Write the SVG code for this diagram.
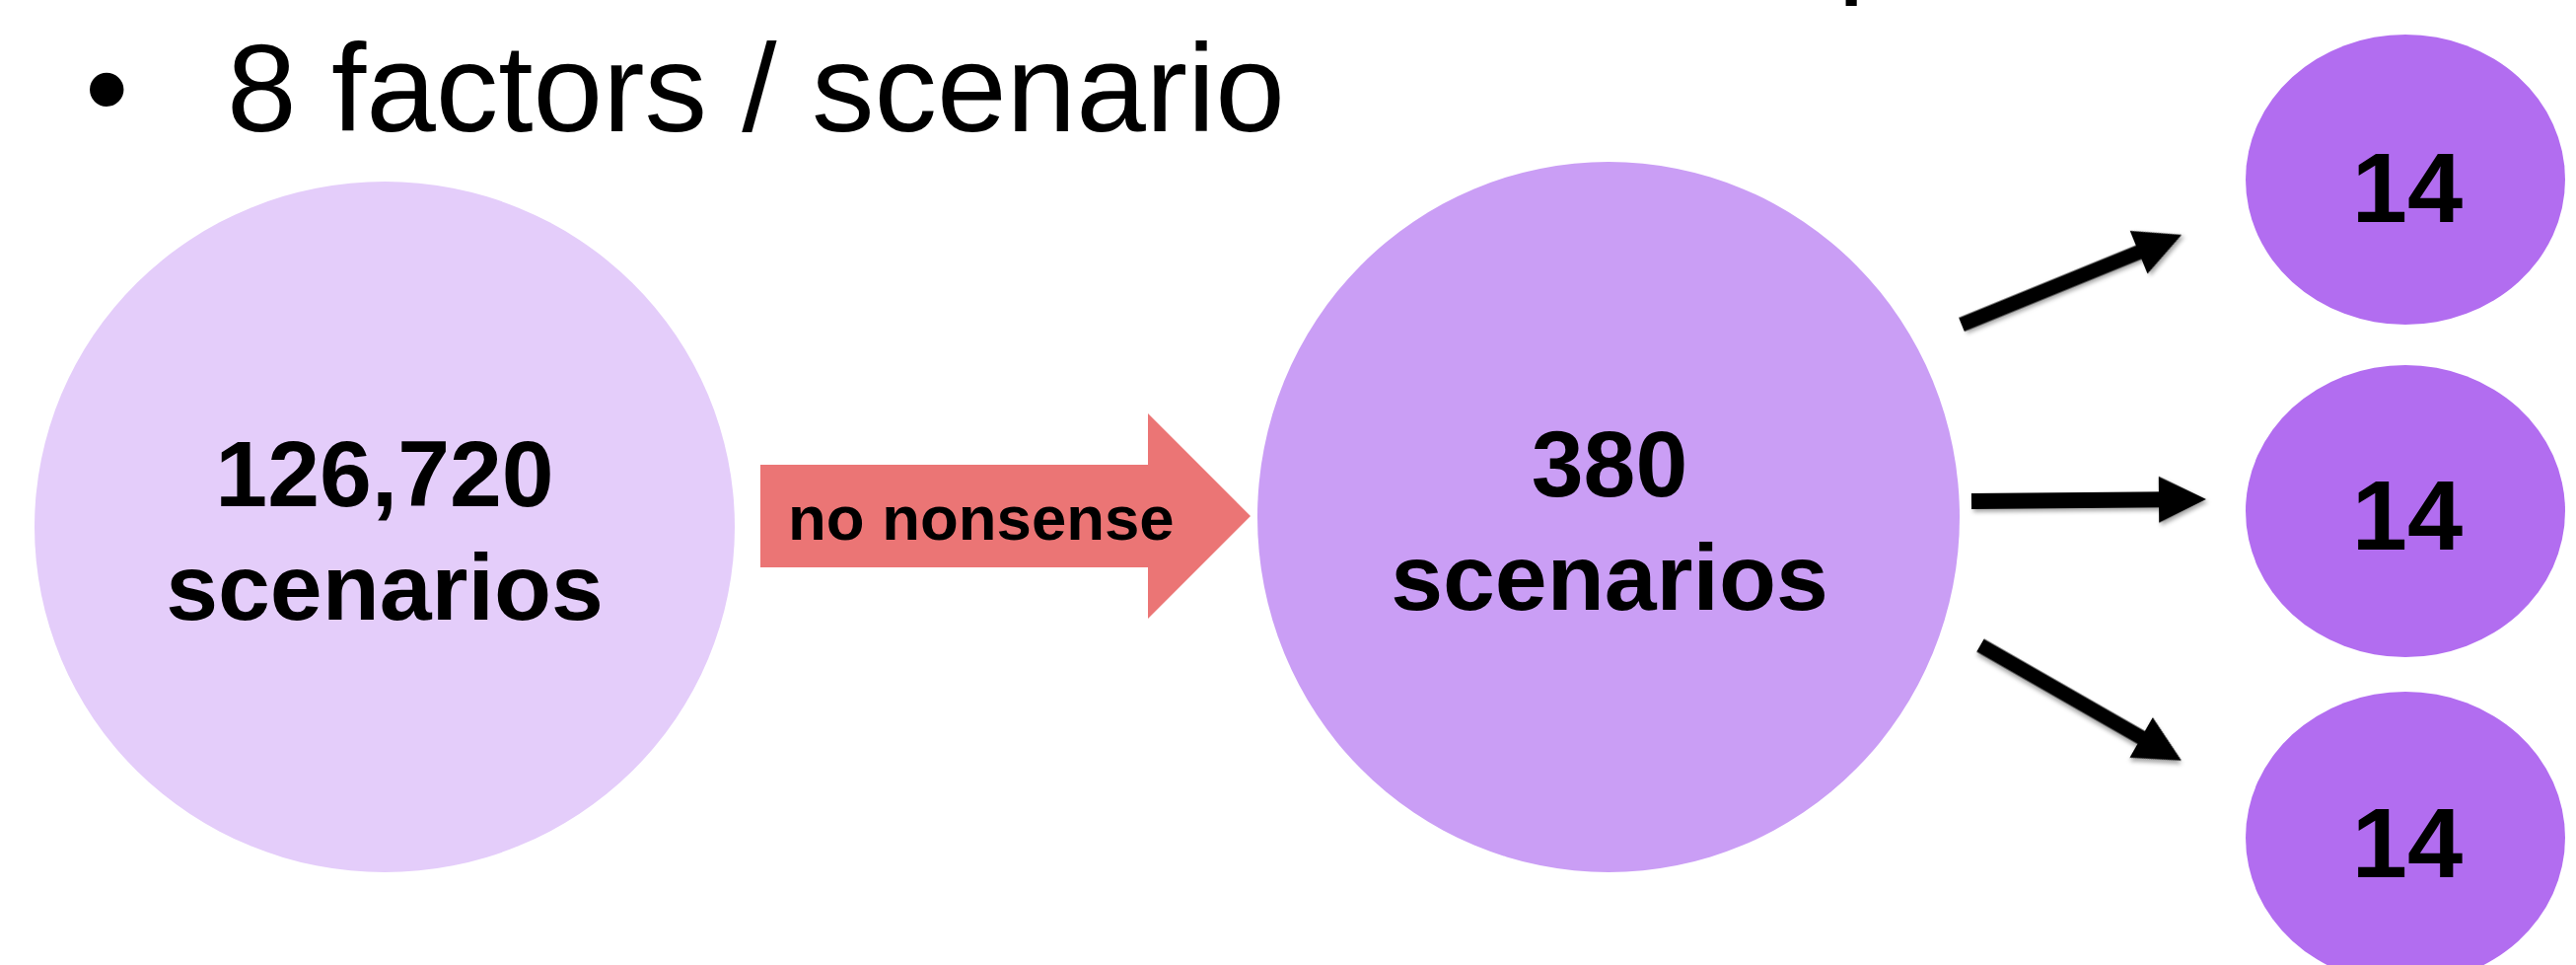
<svg xmlns="http://www.w3.org/2000/svg" width="2612" height="978" viewBox="0 0 2612 978">
  <style>
    .bold { font-family: "Liberation Sans", Arial, Helvetica, sans-serif; font-weight: bold; fill: #000; text-anchor: middle; }
    .head { font-family: "Liberation Sans", Arial, Helvetica, sans-serif; font-size: 127px; fill: #000; }
    .big { font-size: 95px; }
    .small { font-size: 101px; }
    .label { font-size: 63.5px; text-anchor: start; }
    .c1 { fill: #E4CDFA; }
    .c2 { fill: #CA9EF5; }
    .c3 { fill: #B26DF0; }
    .wide-arrow { fill: #EB7575; }
    .pointer { fill: #000; filter: url(#shadow); }
  </style>
  <defs>
    <filter id="shadow" x="-20%" y="-50%" width="140%" height="200%">
      <feDropShadow dx="2" dy="3" stdDeviation="2" flood-color="#000" flood-opacity="0.35"/>
    </filter>
  </defs>

  <rect width="2612" height="978" fill="#fff"/>

  <!-- heading line above (only descender visible) -->
  <text class="head" x="1863" y="-20">p</text>

  <!-- bullet heading -->
  <g id="heading">
    <text class="head" x="86" y="133">•</text>
    <text class="head" x="230" y="133">8 factors / scenario</text>
  </g>

  <!-- all scenarios -->
  <g id="node-all">
    <ellipse class="c1" cx="390" cy="534" rx="355" ry="350"/>
    <text class="bold big" x="390" y="513">126,720</text>
    <text class="bold big" x="390" y="628">scenarios</text>
  </g>

  <!-- filtered scenarios -->
  <g id="node-filtered">
    <ellipse class="c2" cx="1631" cy="524" rx="356" ry="360"/>
    <text class="bold big" x="1632" y="503">380</text>
    <text class="bold big" x="1632" y="618">scenarios</text>
  </g>

  <!-- groups of 14 -->
  <g id="node-group-1">
    <ellipse class="c3" cx="2439" cy="182" rx="162" ry="147"/>
    <text class="bold small" x="2441" y="225">14</text>
  </g>
  <g id="node-group-2">
    <ellipse class="c3" cx="2439" cy="518" rx="162" ry="148"/>
    <text class="bold small" x="2441" y="557">14</text>
  </g>
  <g id="node-group-3">
    <ellipse class="c3" cx="2439" cy="849" rx="162" ry="148"/>
    <text class="bold small" x="2441" y="889">14</text>
  </g>

  <g id="connectors">
    <!-- filter arrow -->
    <g id="edge-filter">
      <polygon class="wide-arrow" points="771,471 1164,471 1164,419 1268,523 1164,627 1164,575 771,575"/>
      <text class="bold label" x="799" y="547">no nonsense</text>
    </g>
    <!-- split arrows -->
    <g id="edge-split-1" transform="translate(1989,329) rotate(-22.2)">
      <polygon class="pointer" points="0,-7.5 194,-7.5 194,-23.5 241,0 194,23.5 194,7.5 0,7.5"/>
    </g>
    <g id="edge-split-2" transform="translate(1999,508) rotate(-0.5)">
      <polygon class="pointer" points="0,-8 190,-8 190,-23.5 238,0 190,23.5 190,8 0,8"/>
    </g>
    <g id="edge-split-3" transform="translate(2008,654) rotate(29.8)">
      <polygon class="pointer" points="0,-7.5 188,-7.5 188,-23.5 235,0 188,23.5 188,7.5 0,7.5"/>
    </g>
  </g>
</svg>
